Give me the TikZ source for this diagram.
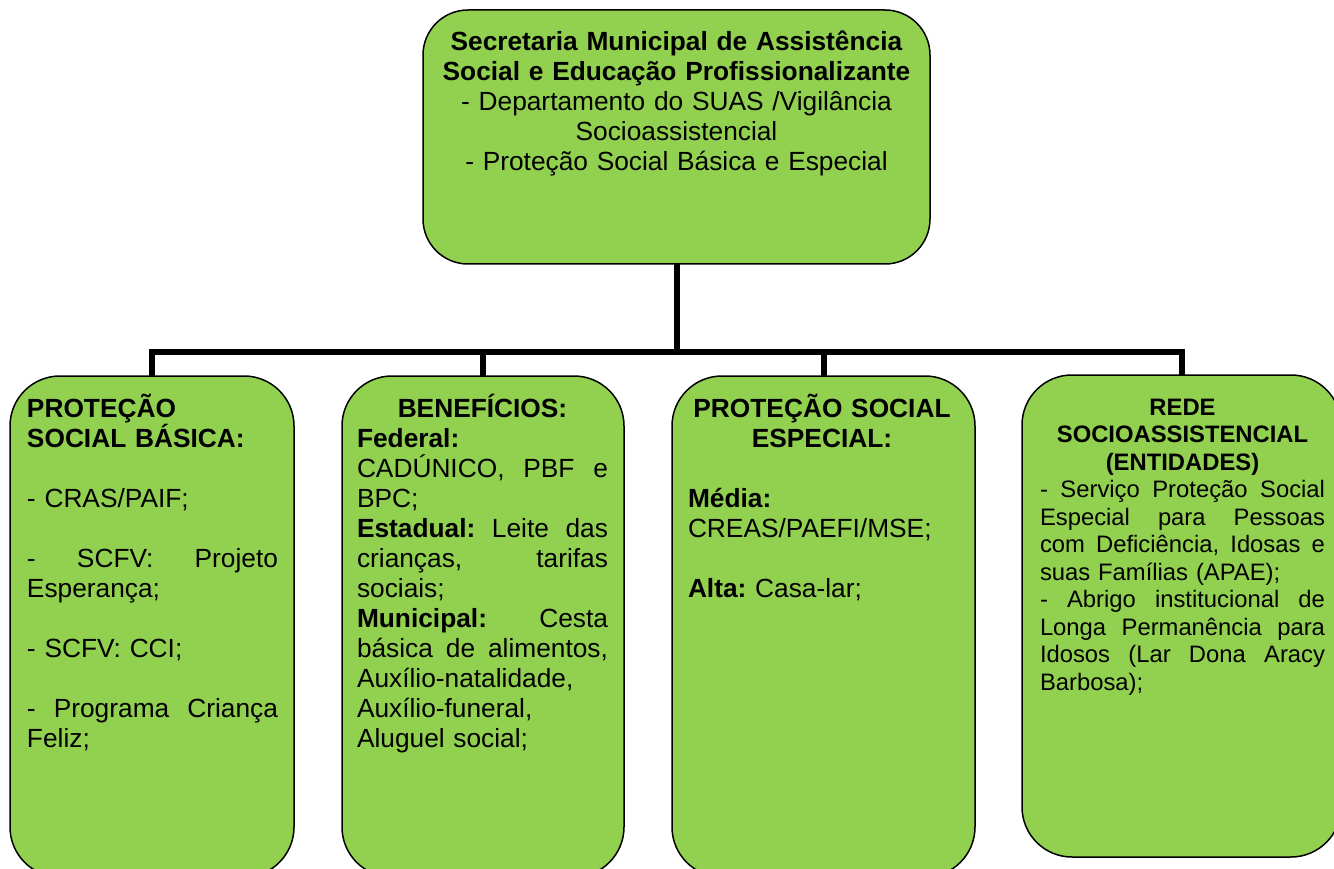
\documentclass[tikz,border=0pt]{standalone}
\usepackage{fontspec}
\setmainfont{Liberation Sans}
\definecolor{boxgreen}{HTML}{92D050}
\newcommand{\jline}[1]{{\spaceskip=0.278em plus 1fil\relax\xspaceskip=\spaceskip\hbox to\hsize{#1}}\par}
\newcommand{\cenline}[1]{\makebox[\hsize]{#1}\par}
\newcommand{\lline}[1]{\mbox{#1}\par}
\newcommand{\blankline}{\mbox{}\par}
\newcommand{\linesetup}{\frenchspacing\lineskiplimit=-100pt\relax\parindent=0pt\relax\parskip=0pt\relax\rule{0pt}{26pt}}
\begin{document}
\begin{tikzpicture}[x=1pt,y=-1pt,
  gbox/.style={draw=black, line width=1.5pt, fill=boxgreen, inner sep=0pt, outer sep=0pt},
  conn/.style={draw=black, line width=6pt, line join=miter},
  txt/.style={inner sep=0pt, outer sep=0pt, font=\fontsize{26.3pt}{30pt}\selectfont},
  txts/.style={inner sep=0pt, outer sep=0pt, font=\fontsize{23.8pt}{27.5pt}\selectfont}]
\useasboundingbox (0,0) rectangle (1334,869);

% boxes
\node[gbox, rounded corners=45pt, minimum width=507pt, minimum height=254pt] (sec) at (676.5,137) {};
\node[gbox, rounded corners=50pt, minimum width=284pt, minimum height=501pt] (b1) at (152,626.5) {};
\node[gbox, rounded corners=50pt, minimum width=282pt, minimum height=501pt] (b2) at (483,626.5) {};
\node[gbox, rounded corners=50pt, minimum width=303pt, minimum height=501pt] (b3) at (823.5,626.5) {};
\node[gbox, rounded corners=50pt, minimum width=319pt, minimum height=482pt] (b4) at (1181.5,616) {};

% connectors
\coordinate (bus) at (0,352);
\draw[conn] (sec.south) -- (sec.south |- bus);
\draw[conn] (b1.north) -- (b1.north |- bus) -- (b4.north |- bus) -- (b4.north);
\draw[conn] (b2.north) -- (b2.north |- bus);
\draw[conn] (b3.north) -- (b3.north |- bus);

% texts
\node[txt, text width=500pt, anchor=north] (t0) at (676.5,24.4) {\linesetup
\cenline{\textbf{Secretaria Municipal de Assistência}}
\cenline{\textbf{Social e Educação Profissionalizante}}
\cenline{- Departamento do SUAS /Vigilância}
\cenline{Socioassistencial}
\cenline{- Proteção Social Básica e Especial}};

\node[txt, text width=251pt, anchor=north west] (t1) at (27,391.4) {\linesetup
\lline{\textbf{PROTEÇÃO}}
\lline{\textbf{SOCIAL BÁSICA:}}
\blankline
\lline{- CRAS/PAIF;}
\blankline
\jline{- SCFV: Projeto}
\lline{Esperança;}
\blankline
\lline{- SCFV: CCI;}
\blankline
\jline{- Programa Criança}
\lline{Feliz;}};

\node[txt, text width=251pt, anchor=north west] (t2) at (357,391.4) {\linesetup
\cenline{\textbf{BENEFÍCIOS:}}
\lline{\textbf{Federal:}}
\jline{CADÚNICO, PBF e}
\lline{BPC;}
\jline{\textbf{Estadual:} Leite das}
\jline{crianças, tarifas}
\lline{sociais;}
\jline{\textbf{Municipal:} Cesta}
\jline{básica de alimentos,}
\lline{Auxílio-natalidade,}
\lline{Auxílio-funeral,}
\lline{Aluguel social;}};

\node[txt, text width=268pt, anchor=north west] (t3) at (688,391.4) {\linesetup
\cenline{\textbf{PROTEÇÃO SOCIAL}}
\cenline{\textbf{ESPECIAL:}}
\blankline
\lline{\textbf{Média:}}
\lline{CREAS/PAEFI/MSE;}
\blankline
\lline{\textbf{Alta:} Casa-lar;}};

\node[txts, text width=285pt, anchor=north west] (t4) at (1040,389.2) {\linesetup
\cenline{\textbf{REDE}}
\cenline{\textbf{SOCIOASSISTENCIAL}}
\cenline{\textbf{(ENTIDADES)}}
\jline{- Serviço Proteção Social}
\jline{Especial para Pessoas}
\jline{com Deficiência, Idosas e}
\lline{suas Famílias (APAE);}
\jline{- Abrigo institucional de}
\jline{Longa Permanência para}
\jline{Idosos (Lar Dona Aracy}
\lline{Barbosa);}};
\end{tikzpicture}
\end{document}
